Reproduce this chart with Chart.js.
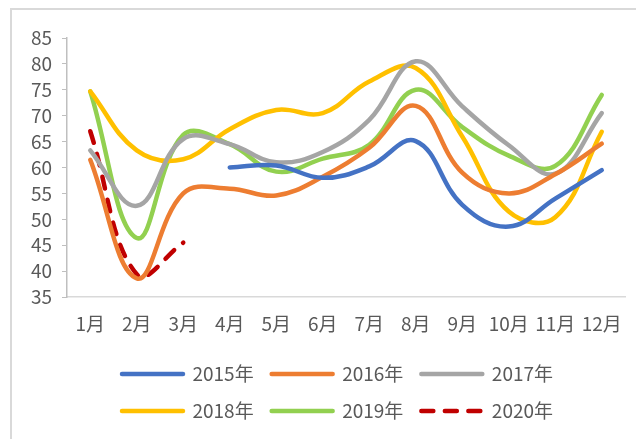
<!DOCTYPE html>
<html>
<head>
<meta charset="utf-8">
<script src="https://cdn.jsdelivr.net/npm/chart.js@4"></script>
<style>
  html, body { margin: 0; padding: 0; background: #fff; overflow: hidden; width: 636px; height: 439px; }
  #marco {
    position: absolute; left: 10px; top: 8px;
    width: 660px; height: 440px;
    border-left: 2px solid #d9d9d9; border-top: 2px solid #d9d9d9;
  }
  #grafico { display: block; }
</style>
</head>
<body>
<div id="marco"><canvas id="grafico" width="640" height="429"></canvas></div>
<script>
// datos
const meses = ['1月','2月','3月','4月','5月','6月','7月','8月','9月','10月','11月','12月'];
const anios = ['2015年','2016年','2017年','2018年','2019年','2020年'];
const v2015 = [null, null, null, 60, 60.4, 58, 60.2, 65.1, 52.8, 48.6, 54, 59.5];
const v2016 = [61.5, 38.6, 55, 55.9, 54.6, 58.2, 63.8, 71.9, 59, 55, 58.7, 64.6];
const v2017 = [63.3, 52.6, 65.5, 64.5, 61, 63, 69.2, 80.5, 71.8, 64.3, 58.8, 70.5];
const v2018 = [74.7, 63.3, 61.6, 67.4, 71.1, 70.5, 76.6, 79.2, 66, 51.5, 50.4, 66.9];
const v2019 = [74.7, 46.4, 66.3, 64.5, 59.2, 61.7, 64.4, 75, 67.8, 62.3, 60.3, 74];
const v2020 = [67, 39.4, 45.5, null, null, null, null, null, null, null, null, null];
const colores = ['#4472C4', '#ED7D31', '#A5A5A5', '#FFC000', '#92D050', '#C00000'];
const yMin = 35, yMax = 85, yPaso = 5;

const series = [v2015, v2016, v2017, v2018, v2019, v2020];
const fuente = { family: "'Noto Sans CJK SC', 'Noto Sans', sans-serif", size: 19 };
const gris = '#595959';

const datasets = series.map((vals, i) => ({
  label: anios[i],
  data: vals,
  borderColor: colores[i],
  backgroundColor: colores[i],
  borderWidth: 4.5,
  borderCapStyle: 'round',
  borderJoinStyle: 'round',
  borderDash: i === 5 ? [12, 11.5] : [],
  tension: 0.4,
  pointRadius: 0,
  pointHoverRadius: 0,
  fill: false
}));

// la leyenda con estilo de punto pierde el borderDash, se lo devolvemos
function etiquetasLeyenda(chart) {
  const items = Chart.defaults.plugins.legend.labels.generateLabels(chart);
  items.forEach(it => {
    const ds = chart.data.datasets[it.datasetIndex];
    it.lineDash = ds.borderDash;
    it.lineCap = 'round';
    it.lineWidth = 4.5;
    it.strokeStyle = ds.borderColor;
  });
  return items;
}

const config = {
  type: 'line',
  data: { labels: meses, datasets: datasets },
  options: {
    responsive: false,
    animation: false,
    layout: { padding: { top: 28, left: 19, right: 8, bottom: 8.5 } },
    plugins: {
      tooltip: { enabled: false },
      legend: {
        position: 'bottom',
        labels: {
          font: fuente,
          color: gris,
          usePointStyle: true,
          pointStyle: 'line',
          pointStyleWidth: 61,
          padding: 18,
          generateLabels: etiquetasLeyenda
        }
      }
    },
    scales: {
      x: {
        offset: true,
        grid: { display: false, drawTicks: false, tickLength: 0 },
        border: { display: true, color: '#d9d9d9', width: 1.5 },
        ticks: { font: fuente, color: gris, padding: 15, maxRotation: 0, autoSkip: false },
        afterFit: (s) => { s.height = 49.5; }
      },
      y: {
        min: yMin,
        max: yMax,
        grid: { drawOnChartArea: false, drawTicks: true, tickLength: 5, color: '#bfbfbf' },
        border: { display: true, color: '#bfbfbf', width: 1.5 },
        ticks: { stepSize: yPaso, font: fuente, color: gris, padding: 10 },
        afterFit: (s) => { s.width = 36; }
      },
      yDer: {
        type: 'linear',
        position: 'right',
        display: true,
        grid: { display: false, drawTicks: false },
        border: { display: false },
        ticks: { display: false },
        afterFit: (s) => { s.width = 19; }
      }
    }
  }
};

new Chart(document.getElementById('grafico'), config);
</script>
</body>
</html>
